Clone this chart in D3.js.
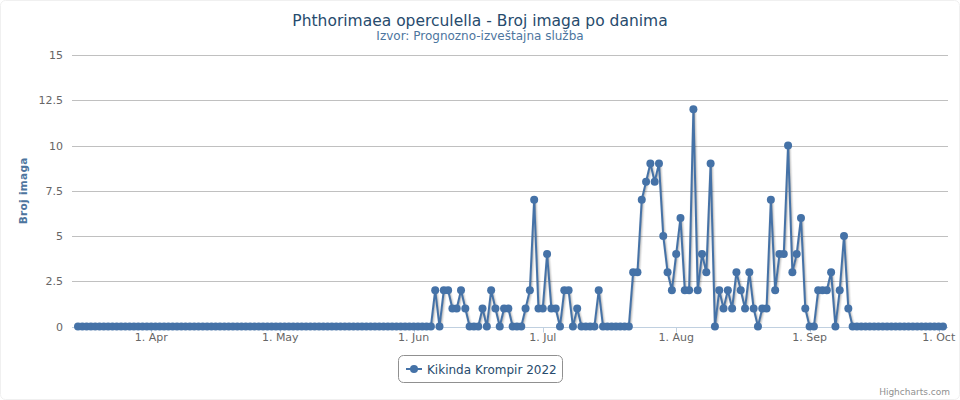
<!DOCTYPE html>
<html>
<head>
<meta charset="utf-8">
<script src="https://cdn.jsdelivr.net/npm/d3@7"></script>
<style>
html,body{margin:0;padding:0;background:#fff;}
svg{display:block;font-family:"DejaVu Sans",Verdana,Arial,sans-serif;}
</style>
</head>
<body>
<svg id="chart" width="960" height="400"></svg>
<script>
const titleText = "Phthorimaea operculella - Broj imaga po danima";
const subtitleText = "Izvor: Prognozno-izveštajna služba";
const seriesName = "Kikinda Krompir 2022";
const yAxisTitle = "Broj imaga";
const startDate = "2022-03-15";
// one value per day, starting at startDate
const valuesMar = [0,0,0,0,0,0,0,0,0,0,0,0,0,0,0,0,0];
const valuesApr = [0,0,0,0,0,0,0,0,0,0,0,0,0,0,0,0,0,0,0,0,0,0,0,0,0,0,0,0,0,0];
const valuesMay = [0,0,0,0,0,0,0,0,0,0,0,0,0,0,0,0,0,0,0,0,0,0,0,0,0,0,0,0,0,0,0];
const valuesJun = [0,0,0,0,0,2,0,2,2,1,1,2,1,0,0,0,1,0,2,1,0,1,1,0,0,0,1,2,7,1];
const valuesJul = [1,4,1,1,0,2,2,0,1,0,0,0,0,2,0,0,0,0,0,0,0,3,3,7,8,9,8,9,5,3,2];
const valuesAug = [4,6,2,2,12,2,4,3,9,0,2,1,2,1,3,2,1,3,1,0,1,1,7,2,4,4,10,3,4,6,1];
const valuesSep = [0,0,2,2,2,3,0,2,5,1,0,0,0,0,0,0,0,0,0,0,0,0,0,0,0,0,0,0,0,0];
const valuesOct = [0,0];
const yTicks = [0, 2.5, 5, 7.5, 10, 12.5, 15];
const xTickDates = ["2022-04-01","2022-05-01","2022-06-01","2022-07-01","2022-08-01","2022-09-01","2022-10-01"];
const monthNames = ["Jan","Feb","Mar","Apr","May","Jun","Jul","Aug","Sep","Oct","Nov","Dec"];

const allValues = [].concat(valuesMar, valuesApr, valuesMay, valuesJun, valuesJul, valuesAug, valuesSep, valuesOct);
const parse = d3.utcParse("%Y-%m-%d");
const t0 = parse(startDate);
const data = allValues.map((v, i) => ({date: d3.utcDay.offset(t0, i), value: v}));

const svg = d3.select("#chart");
const plotLeft = 72, plotRight = 948, plotTop = 55, plotBottom = 326.5;

const x = d3.scaleUtc()
  .domain(d3.extent(data, d => d.date))
  .range([78, 943]);
const y = d3.scaleLinear().domain([0, 15]).range([plotBottom, plotTop]);

// background / border
svg.append("rect").attr("x", 0.5).attr("y", 0.5).attr("width", 959).attr("height", 399)
  .attr("rx", 5).attr("fill", "#fff").attr("stroke", "#f0f0f0");

// title
svg.append("text").attr("x", 480).attr("y", 26).attr("text-anchor", "middle")
  .attr("fill", "#274b6d").style("font-size", "15.5px").text(titleText);
svg.append("text").attr("x", 480).attr("y", 40).attr("text-anchor", "middle")
  .attr("fill", "#4d759e").style("font-size", "12px").text(subtitleText);

// y grid + labels
const yAxis = svg.append("g");
yTicks.forEach(t => {
  yAxis.append("line")
    .attr("x1", plotLeft).attr("x2", plotRight)
    .attr("y1", Math.round(y(t)) + 0.5).attr("y2", Math.round(y(t)) + 0.5)
    .attr("stroke", "#C0C0C0").attr("stroke-width", 1);
  yAxis.append("text")
    .attr("x", 63).attr("y", y(t) + 4)
    .attr("text-anchor", "end").attr("fill", "#666")
    .style("font-size", "11px")
    .text(d3.format("")(t));
});

// y axis title
svg.append("text")
  .attr("transform", `translate(27,${(plotTop + plotBottom) / 2}) rotate(-90)`)
  .attr("text-anchor", "middle").attr("fill", "#4d759e")
  .style("font-size", "10.5px").style("font-weight", "bold")
  .style("letter-spacing", "0.3px")
  .text(yAxisTitle);

// x axis line and ticks
const xAxis = svg.append("g");
xAxis.append("line").attr("x1", plotLeft).attr("x2", plotRight)
  .attr("y1", Math.round(plotBottom) + 0.5).attr("y2", Math.round(plotBottom) + 0.5)
  .attr("stroke", "#C0D0E0");
xTickDates.forEach(s => {
  const d = parse(s);
  const xx = Math.round(x(d)) + 0.5;
  xAxis.append("line").attr("x1", xx).attr("x2", xx)
    .attr("y1", Math.round(plotBottom) + 0.5).attr("y2", Math.round(plotBottom) + 5.5)
    .attr("stroke", "#C0D0E0");
  xAxis.append("text").attr("x", x(d)).attr("y", 341)
    .attr("text-anchor", "middle").attr("fill", "#666")
    .style("font-size", "11px")
    .text(d.getUTCDate() + ". " + monthNames[d.getUTCMonth()]);
});

// series
const line = d3.line().x(d => x(d.date)).y(d => y(d.value));
const g = svg.append("g");
[[5, 0.05], [3, 0.1], [1, 0.15]].forEach(([w, o]) => {
  g.append("path").datum(data).attr("d", line)
    .attr("transform", "translate(1,1)")
    .attr("fill", "none").attr("stroke", "#000").attr("stroke-opacity", o)
    .attr("stroke-width", w).attr("stroke-linejoin", "round");
});
g.append("path").datum(data).attr("d", line)
  .attr("fill", "none").attr("stroke", "#4572A7").attr("stroke-width", 2)
  .attr("stroke-linejoin", "round");
g.selectAll("circle").data(data).join("circle")
  .attr("cx", d => x(d.date)).attr("cy", d => y(d.value)).attr("r", 4)
  .attr("fill", "#4572A7");

// legend
const lg = svg.append("g");
lg.append("rect").attr("x", 398.5).attr("y", 355.5).attr("width", 164).attr("height", 27)
  .attr("rx", 5).attr("fill", "#fff").attr("stroke", "#909090");
lg.append("line").attr("x1", 406).attr("x2", 422).attr("y1", 369).attr("y2", 369)
  .attr("stroke", "#4572A7").attr("stroke-width", 2);
lg.append("circle").attr("cx", 414).attr("cy", 369).attr("r", 4).attr("fill", "#4572A7");
lg.append("text").attr("x", 427).attr("y", 373.5).attr("fill", "#274b6d")
  .style("font-size", "12px").text(seriesName);

// credits
svg.append("text").attr("x", 950).attr("y", 395).attr("text-anchor", "end")
  .attr("fill", "#909090").style("font-size", "9px").text("Highcharts.com");
</script>
</body>
</html>
